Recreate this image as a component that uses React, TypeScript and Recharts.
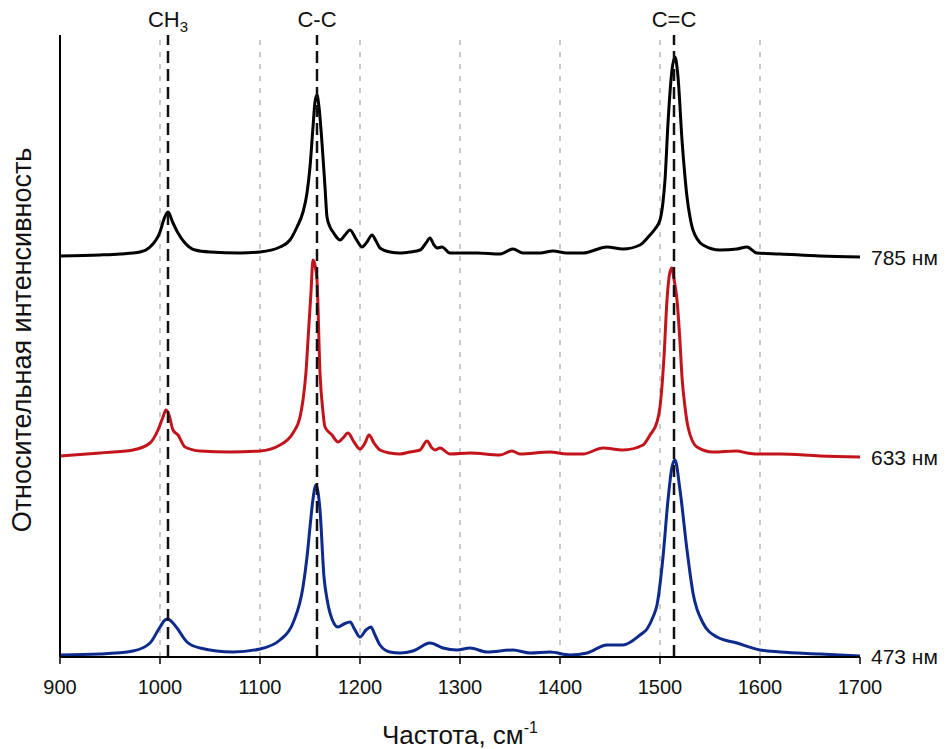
import React from 'react';
import { LineChart, Line, XAxis, YAxis, ReferenceLine } from 'recharts';

// Raman spectra: [wavenumber, relative intensity above own baseline]
const spectrum785: [number, number][] = [
  [900, 1], [940, 2], [960, 3], [980, 5], [990, 10], [1000, 25], [1004, 38], [1008, 45], [1013, 34],
  [1018, 24], [1025, 14], [1035, 7], [1050, 5], [1080, 4], [1100, 5], [1120, 10], [1130, 17], [1137, 30],
  [1143, 45], [1147, 64], [1150, 90], [1153, 130], [1155, 155], [1157, 162], [1159, 150], [1162, 114],
  [1165, 70], [1167, 40], [1170, 30], [1173, 25], [1180, 17], [1185, 22], [1190, 27], [1196, 18],
  [1202, 10], [1207, 15], [1212, 22], [1216, 16], [1220, 9], [1230, 5], [1240, 4], [1250, 5], [1260, 7],
  [1266, 14], [1270, 19], [1274, 12], [1277, 9], [1282, 10], [1290, 4], [1317, 4], [1340, 3], [1353, 8],
  [1363, 4], [1380, 4], [1393, 6], [1407, 4], [1423, 4], [1447, 10], [1463, 8], [1480, 12], [1490, 22],
  [1495, 28], [1500, 37], [1503, 55], [1505, 77], [1508, 134], [1512, 187], [1515, 200], [1518, 180],
  [1522, 117], [1525, 80], [1527, 60], [1530, 40], [1533, 27], [1543, 12], [1560, 7], [1577, 8],
  [1587, 10], [1597, 4], [1620, 3], [1660, 1], [1700, 0],
];

const spectrum633: [number, number][] = [
  [900, 1], [940, 4], [973, 7], [990, 14], [998, 27], [1003, 40], [1006, 47], [1009, 42], [1013, 27],
  [1018, 22], [1025, 10], [1040, 6], [1070, 5], [1100, 6], [1120, 12], [1133, 24], [1140, 40], [1143, 57],
  [1146, 85], [1148, 117], [1151, 165], [1153, 197], [1155, 192], [1157, 177], [1160, 84], [1163, 45],
  [1165, 30], [1172, 22], [1178, 15], [1183, 19], [1188, 24], [1194, 15], [1200, 8], [1205, 14],
  [1209, 22], [1214, 14], [1220, 7], [1230, 4], [1240, 3], [1250, 5], [1260, 7], [1267, 16], [1272, 9],
  [1275, 7], [1280, 9], [1290, 3], [1310, 4], [1340, 2], [1352, 6], [1360, 3], [1390, 5], [1407, 3],
  [1423, 3], [1443, 9], [1463, 7], [1483, 12], [1490, 22], [1497, 35], [1500, 50], [1504, 100],
  [1507, 157], [1510, 185], [1512, 189], [1514, 178], [1517, 157], [1520, 115], [1522, 80], [1525, 50],
  [1528, 30], [1537, 10], [1553, 5], [1577, 6], [1587, 4], [1597, 3], [1620, 3], [1660, 1], [1700, 0],
];

const spectrum473: [number, number][] = [
  [900, 2], [940, 3], [973, 6], [990, 14], [1000, 30], [1005, 37], [1008, 38], [1012, 35], [1017, 29],
  [1027, 15], [1040, 9], [1073, 5], [1100, 8], [1120, 17], [1133, 34], [1143, 70], [1147, 100],
  [1150, 130], [1153, 158], [1156, 172], [1158, 165], [1160, 147], [1164, 80], [1167, 58], [1170, 44],
  [1178, 30], [1184, 33], [1190, 35], [1195, 27], [1200, 20], [1206, 27], [1211, 30], [1215, 22],
  [1220, 12], [1230, 5], [1240, 4], [1253, 6], [1270, 14], [1283, 9], [1297, 7], [1310, 9], [1327, 5],
  [1353, 7], [1370, 4], [1390, 5], [1410, 2], [1427, 4], [1447, 12], [1463, 12], [1480, 22], [1487, 28],
  [1493, 40], [1497, 52], [1503, 100], [1508, 157], [1512, 190], [1515, 197], [1520, 167], [1527, 107],
  [1533, 64], [1543, 34], [1557, 20], [1577, 14], [1600, 7], [1620, 5], [1660, 3], [1700, 1],
];

const xTicks = [900, 1000, 1100, 1200, 1300, 1400, 1500, 1600, 1700];
const gridLines = [1000, 1100, 1200, 1300, 1400, 1500, 1600];
const bandPositions = [1008, 1157, 1514];
const bandLabels = ['CH3', 'C-C', 'C=C'];

const series = [
  { name: '473 нм', data: spectrum473, offset: 0, color: '#0d2a8c' },
  { name: '633 нм', data: spectrum633, offset: 200, color: '#c3141c' },
  { name: '785 нм', data: spectrum785, offset: 400, color: '#000000' },
];

const FONT = '"Liberation Sans", Arial, sans-serif';

const BandLabel = ({ viewBox, text }: any) => {
  const x = viewBox.x;
  const y = viewBox.y - 8;
  if (text === 'CH3') {
    return (
      <text x={x} y={y} textAnchor="middle" fontSize={22} fontFamily={FONT} fill="#111">
        CH
        <tspan fontSize={15} dy={5}>3</tspan>
      </text>
    );
  }
  return (
    <text x={x} y={y} textAnchor="middle" fontSize={22} fontFamily={FONT} fill="#111">
      {text}
    </text>
  );
};

const YTitle = ({ viewBox }: any) => {
  const cx = 22;
  const cy = (viewBox?.y ?? 35) + (viewBox?.height ?? 622) / 2 - 6;
  return (
    <text
      x={cx}
      y={cy}
      transform={`rotate(-90, ${cx}, ${cy})`}
      textAnchor="middle"
      dominantBaseline="central"
      fontSize={27}
      fontFamily={FONT}
      fill="#111"
    >
      Относительная интенсивность
    </text>
  );
};

const XTitle = ({ viewBox }: any) => (
  <text
    x={viewBox.x + viewBox.width / 2}
    y={viewBox.y + 87}
    textAnchor="middle"
    fontSize={26}
    fontFamily={FONT}
    fill="#111"
  >
    Частота, см
    <tspan fontSize={16} dy={-11}>-1</tspan>
  </text>
);

const App = () => {
  return (
    <div style={{ position: 'absolute', left: 0, top: 0, background: '#fff' }}>
      <LineChart
        width={948}
        height={749}
        margin={{ top: 35, right: 88, left: 59, bottom: 12 }}
      >
        <XAxis
          dataKey="x"
          type="number"
          domain={[900, 1700]}
          ticks={xTicks}
          allowDataOverflow
          height={80}
          axisLine={{ stroke: '#000', strokeWidth: 2 }}
          tickLine={{ stroke: '#000', strokeWidth: 1.5 }}
          tickSize={7}
          tickMargin={16}
          tick={{ fontSize: 20, fill: '#111', fontFamily: FONT }}
          label={<XTitle />}
        />
        <YAxis
          type="number"
          domain={[0, 622]}
          width={1}
          tick={false}
          tickLine={false}
          axisLine={{ stroke: '#000', strokeWidth: 2 }}
          label={<YTitle />}
        />
        {gridLines.map((g) => (
          <ReferenceLine
            key={`g${g}`}
            x={g}
            stroke="#b8b8b8"
            strokeWidth={1.5}
            strokeDasharray="5 7"
          />
        ))}
        {series.map((s) => (
          <Line
            key={s.name}
            data={s.data.map(([x, v]) => ({ x, y: v + s.offset }))}
            dataKey="y"
            type="monotone"
            stroke={s.color}
            strokeWidth={3}
            dot={false}
            activeDot={false}
            isAnimationActive={false}
            label={(p: any) =>
              p.index === s.data.length - 1 ? (
                <text
                  key={`${s.name}-lbl`}
                  x={p.x + 11}
                  y={p.y}
                  dominantBaseline="central"
                  fontSize={21}
                  fontFamily={FONT}
                  fill="#111"
                >
                  {s.name}
                </text>
              ) : (
                <g key={`${s.name}-${p.index}`} />
              )
            }
          />
        ))}
        {bandPositions.map((b, i) => (
          <ReferenceLine
            key={`b${b}`}
            x={b}
            stroke="#111"
            strokeWidth={2.5}
            strokeDasharray="12 6"
            label={<BandLabel text={bandLabels[i]} />}
          />
        ))}
      </LineChart>
    </div>
  );
};

export default App;
